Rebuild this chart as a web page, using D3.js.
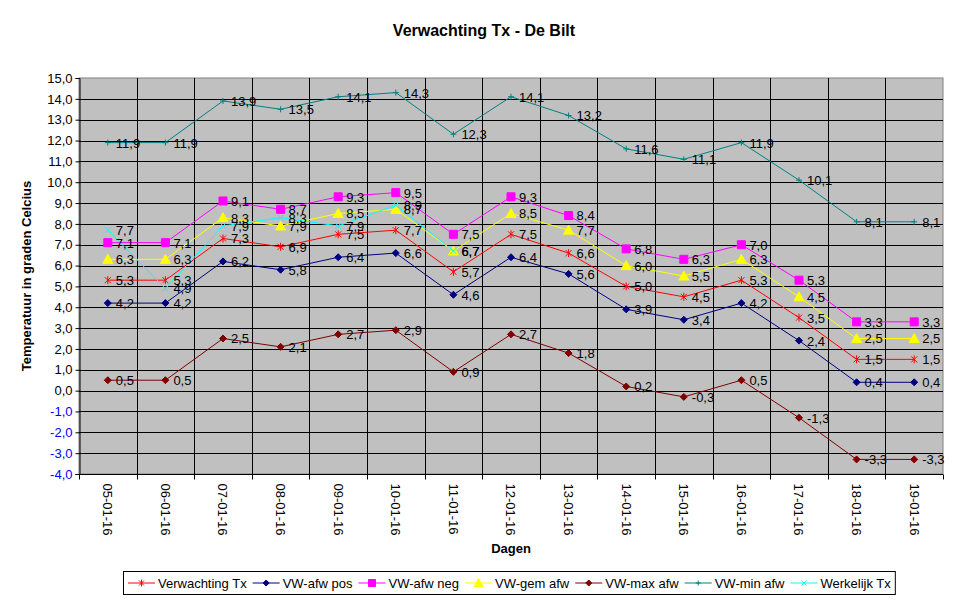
<!DOCTYPE html>
<html>
<head>
<meta charset="utf-8">
<script src="https://cdnjs.cloudflare.com/ajax/libs/d3/7.8.5/d3.min.js"></script>
<style>
  body { margin: 0; background: #fff; }
  text { font-family: Arial, "Liberation Sans", sans-serif; }
</style>
</head>
<body>
<div id="chart"></div>
<script>
// data
var dates = ["05-01-16", "06-01-16", "07-01-16", "08-01-16", "09-01-16", "10-01-16", "11-01-16",
    "12-01-16", "13-01-16", "14-01-16", "15-01-16", "16-01-16", "17-01-16", "18-01-16", "19-01-16"];

var verwachtingTx = [5.3, 5.3, 7.3, 6.9, 7.5, 7.7, 5.7, 7.5, 6.6, 5.0, 4.5, 5.3, 3.5, 1.5, 1.5];
var afwPos        = [4.2, 4.2, 6.2, 5.8, 6.4, 6.6, 4.6, 6.4, 5.6, 3.9, 3.4, 4.2, 2.4, 0.4, 0.4];
var afwNeg        = [7.1, 7.1, 9.1, 8.7, 9.3, 9.5, 7.5, 9.3, 8.4, 6.8, 6.3, 7.0, 5.3, 3.3, 3.3];
var gemAfw        = [6.3, 6.3, 8.3, 7.9, 8.5, 8.7, 6.7, 8.5, 7.7, 6.0, 5.5, 6.3, 4.5, 2.5, 2.5];
var maxAfw        = [0.5, 0.5, 2.5, 2.1, 2.7, 2.9, 0.9, 2.7, 1.8, 0.2, -0.3, 0.5, -1.3, -3.3, -3.3];
var minAfw        = [11.9, 11.9, 13.9, 13.5, 14.1, 14.3, 12.3, 14.1, 13.2, 11.6, 11.1, 11.9, 10.1, 8.1, 8.1];
var werkelijkTx   = [7.7, 4.9, 7.9, 8.3, 7.9, 8.9, 6.7, null, null, null, null, null, null, null, null];

var seriesNames = ["Verwachting Tx", "VW-afw pos", "VW-afw neg", "VW-gem afw", "VW-max afw", "VW-min afw", "Werkelijk Tx"];
var seriesValues = [verwachtingTx, afwPos, afwNeg, gemAfw, maxAfw, minAfw, werkelijkTx];
var seriesColors = ["#ff0000", "#000080", "#ff00ff", "#ffff00", "#800000", "#008080", "#00ffff"];
var seriesMarkers = ["star", "diamond", "square", "triangle", "diamond", "plus", "cross"];

var yTicks = d3.range(-4, 16, 1);

var svgWidth = 969;
var svgHeight = 602;

var plot = { left: 79, right: 943, top: 78, bottom: 474 };

var svg = d3.select("#chart")
    .append("svg")
    .attr("width", svgWidth)
    .attr("height", svgHeight);

// Dutch notation: comma decimal, plain hyphen for minus
var fmt = function(v) { return d3.format(".1f")(v).replace(".", ",").replace("\u2212", "-"); };

var xScale = d3.scaleBand()
    .domain(dates)
    .range([plot.left, plot.right])
    .padding(0);

var yScale = d3.scaleLinear()
    .domain([-4, 15])
    .range([plot.bottom, plot.top]);

var cx = function(d) { return xScale(d) + xScale.bandwidth() / 2; };

// plot area
svg.append("rect")
    .attr("x", plot.left)
    .attr("y", plot.top)
    .attr("width", plot.right - plot.left)
    .attr("height", plot.bottom - plot.top)
    .attr("fill", "#c0c0c0")
    .attr("stroke", "#808080")
    .attr("stroke-width", 1);

// horizontal gridlines
svg.append("g")
    .selectAll("line")
    .data(yTicks.filter(function(t) { return t > -4 && t < 15; }))
    .enter()
    .append("line")
    .attr("x1", plot.left)
    .attr("x2", plot.right)
    .attr("y1", function(t) { return Math.round(yScale(t)) + 0.5; })
    .attr("y2", function(t) { return Math.round(yScale(t)) + 0.5; })
    .attr("stroke", "#000")
    .attr("stroke-width", 1);

// vertical gridlines at category edges
svg.append("g")
    .selectAll("line")
    .data(dates.slice(1))
    .enter()
    .append("line")
    .attr("x1", function(d) { return Math.round(xScale(d)) + 0.5; })
    .attr("x2", function(d) { return Math.round(xScale(d)) + 0.5; })
    .attr("y1", plot.top)
    .attr("y2", plot.bottom)
    .attr("stroke", "#000")
    .attr("stroke-width", 1);

// y axis
var leftAxis = d3.axisLeft(yScale)
    .tickValues(yTicks)
    .tickSize(4)
    .tickPadding(3)
    .tickFormat(fmt);

var yAxisG = svg.append("g")
    .attr("transform", "translate(" + (plot.left + 0.5) + ",0)")
    .call(leftAxis);

yAxisG.select(".domain").attr("stroke", "#000");
yAxisG.selectAll("text")
    .style("font-size", "13px")
    .attr("fill", function(t) { return t < 0 ? "#0000ff" : "#000"; });

// x axis: ticks between categories
var xAxisG = svg.append("g")
    .attr("transform", "translate(0," + (plot.bottom + 0.5) + ")");

xAxisG.append("line")
    .attr("x1", plot.left)
    .attr("x2", plot.right)
    .attr("stroke", "#000");

xAxisG.selectAll(".edge")
    .data(dates.concat(["end"]))
    .enter()
    .append("line")
    .attr("class", "edge")
    .attr("x1", function(d, i) { return Math.round(i < dates.length ? xScale(d) : plot.right) + 0.5; })
    .attr("x2", function(d, i) { return Math.round(i < dates.length ? xScale(d) : plot.right) + 0.5; })
    .attr("y1", 0)
    .attr("y2", 5)
    .attr("stroke", "#000");

xAxisG.selectAll(".lbl")
    .data(dates)
    .enter()
    .append("text")
    .attr("class", "lbl")
    .attr("transform", function(d) { return "translate(" + cx(d) + ",9) rotate(90)"; })
    .attr("dy", "0.35em")
    .style("font-size", "13px")
    .text(function(d) { return d; });

// marker shapes
function markerPath(type, s) {
    var h = s / 2;
    if (type === "diamond") return "M0," + (-h) + "L" + h + ",0L0," + h + "L" + (-h) + ",0Z";
    if (type === "square") return "M" + (-h) + "," + (-h) + "h" + s + "v" + s + "h" + (-s) + "Z";
    if (type === "triangle") return "M0," + (-h - 1) + "L" + (h + 1) + "," + h + "L" + (-h - 1) + "," + h + "Z";
    if (type === "plus") return "M" + (-h) + ",0H" + h + "M0," + (-h) + "V" + h;
    if (type === "cross") return "M" + (-h) + "," + (-h) + "L" + h + "," + h + "M" + h + "," + (-h) + "L" + (-h) + "," + h;
    // star
    return "M" + (-h) + "," + (-h) + "L" + h + "," + h + "M" + h + "," + (-h) + "L" + (-h) + "," + h + "M0," + (-h - 1) + "V" + (h + 1);
}
var filled = { diamond: true, square: true, triangle: true };
var markerSize = { star: 6, diamond: 7, square: 8, triangle: 8, plus: 6, cross: 6 };

var line = d3.line()
    .defined(function(d) { return d.v !== null; })
    .x(function(d) { return cx(d.date); })
    .y(function(d) { return yScale(d.v); });

var seriesData = seriesNames.map(function(name, i) {
    return {
        name: name,
        color: seriesColors[i],
        marker: seriesMarkers[i],
        points: dates.map(function(d, j) { return { date: d, v: seriesValues[i][j] }; })
    };
});

seriesData.forEach(function(s) {
    var g = svg.append("g");
    g.append("path")
        .attr("d", line(s.points))
        .attr("fill", "none")
        .attr("stroke", s.color)
        .attr("stroke-width", 1);

    g.selectAll("path.mk")
        .data(s.points.filter(function(p) { return p.v !== null; }))
        .enter()
        .append("path")
        .attr("class", "mk")
        .attr("transform", function(p) { return "translate(" + cx(p.date) + "," + yScale(p.v) + ")"; })
        .attr("d", markerPath(s.marker, markerSize[s.marker]))
        .attr("fill", filled[s.marker] ? s.color : "none")
        .attr("stroke", s.color)
        .attr("stroke-width", 1);
});

// data labels on top
seriesData.forEach(function(s) {
    svg.append("g")
        .selectAll("text")
        .data(s.points.filter(function(p) { return p.v !== null; }))
        .enter()
        .append("text")
        .attr("x", function(p) { return cx(p.date) + 8; })
        .attr("y", function(p) { return yScale(p.v); })
        .attr("dy", "0.38em")
        .style("font-size", "13px")
        .attr("fill", "#000")
        .text(function(p) { return fmt(p.v); });
});

// titles
svg.append("text")
    .attr("x", 484)
    .attr("y", 36)
    .attr("text-anchor", "middle")
    .style("font-size", "16px")
    .style("font-weight", "bold")
    .text("Verwachting Tx - De Bilt");

svg.append("text")
    .attr("transform", "translate(31," + ((plot.top + plot.bottom) / 2) + ") rotate(-90)")
    .attr("text-anchor", "middle")
    .style("font-size", "13px")
    .style("font-weight", "bold")
    .text("Temperatuur in graden Celcius");

svg.append("text")
    .attr("x", 511)
    .attr("y", 553)
    .attr("text-anchor", "middle")
    .style("font-size", "13px")
    .style("font-weight", "bold")
    .text("Dagen");

// legend
var legend = svg.append("g").attr("transform", "translate(123,571)");
var legendBox = legend.append("rect")
    .attr("x", 0.5)
    .attr("y", 0.5)
    .attr("height", 23)
    .attr("fill", "#fff")
    .attr("stroke", "#000");

var lx = 5;
seriesData.forEach(function(s) {
    var item = legend.append("g").attr("transform", "translate(" + lx + ",12)");
    item.append("line")
        .attr("x1", 0)
        .attr("x2", 27)
        .attr("stroke", s.color);
    item.append("path")
        .attr("transform", "translate(13.5,0)")
        .attr("d", markerPath(s.marker, markerSize[s.marker] - 1))
        .attr("fill", filled[s.marker] ? s.color : "none")
        .attr("stroke", s.color);
    var t = item.append("text")
        .attr("x", 30)
        .attr("dy", "0.35em")
        .style("font-size", "13px")
        .text(s.name);
    lx += 30 + t.node().getComputedTextLength() + 6;
});
legendBox.attr("width", lx - 2);
</script>
</body>
</html>
